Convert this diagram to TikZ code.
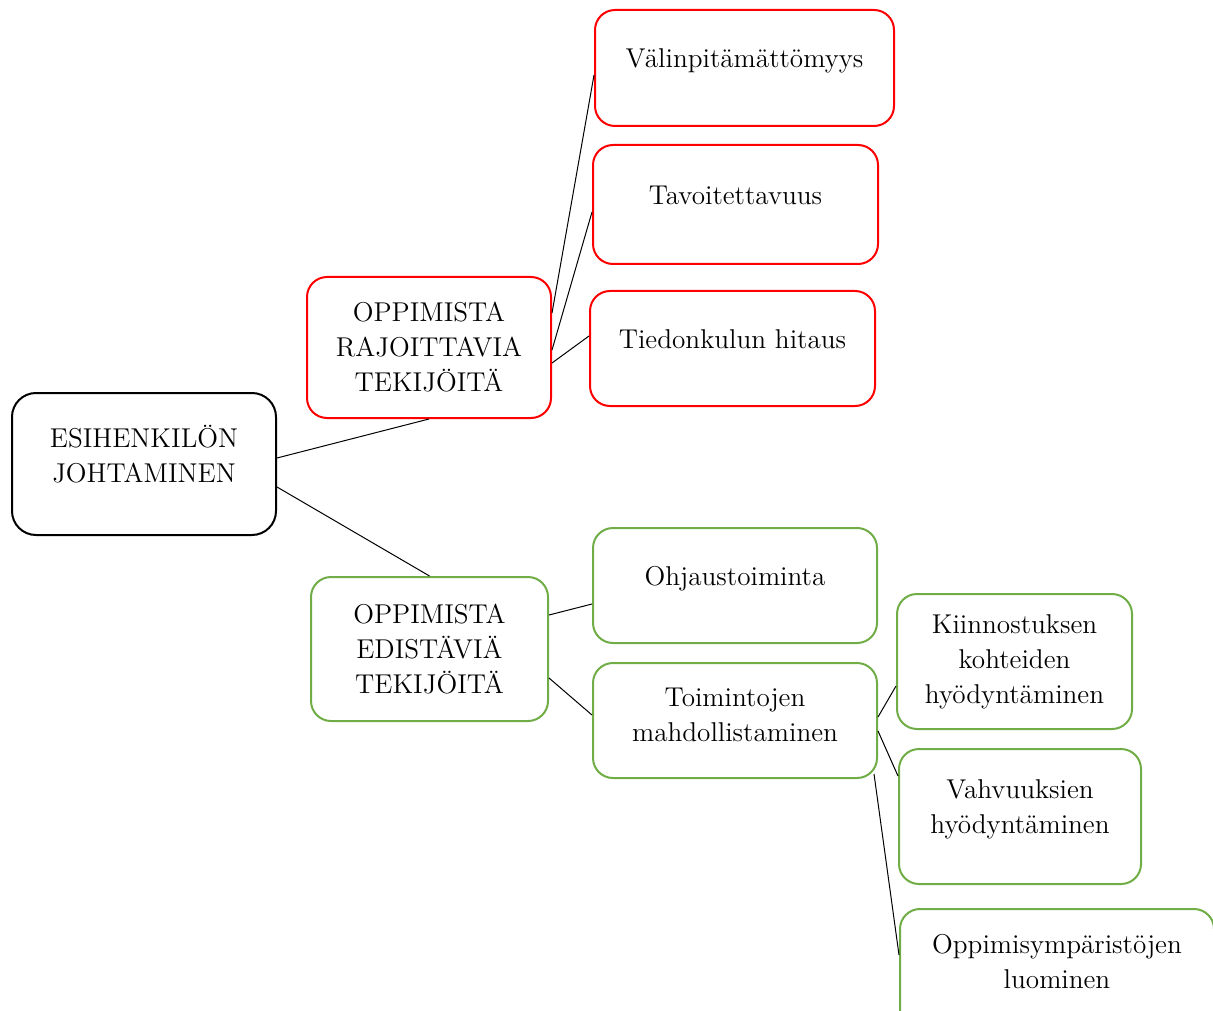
\documentclass[tikz,border=0pt]{standalone}
\usetikzlibrary{calc}
\definecolor{boxred}{RGB}{255,0,0}
\definecolor{boxgreen}{RGB}{112,173,71}

\begin{document}
\begin{tikzpicture}[x=0.5pt,y=-0.5pt]
   \tikzstyle{box}=[draw, rounded corners=10pt, line width=1pt, align=center, inner sep=2pt, font=\fontsize{13.6}{17.5}\selectfont]
   \tikzstyle{top box}=[box, draw=black, rounded corners=12pt]
   \tikzstyle{red box}=[box, draw=boxred]
   \tikzstyle{green box}=[box, draw=boxgreen]
   \tikzstyle{link}=[draw=black, line width=0.5pt]

\useasboundingbox (0,0) rectangle (1213,1010);

% root
\node[top box, minimum width=132pt, minimum height=71pt, text depth=10.5pt] (johto) at (144,464) {ESIHENKILÖN\\JOHTAMINEN};

% rajoittavat
\node[red box, minimum width=122pt, minimum height=70.5pt] (rajoit) at (429,347.5) {OPPIMISTA\\RAJOITTAVIA\\TEKIJÖITÄ};
\node[red box, minimum width=149.5pt, minimum height=58pt, text depth=10pt] (valin) at (744.5,68) {Välinpitämättömyys};
\node[red box, minimum width=142.5pt, minimum height=59.5pt, text depth=9.5pt] (tavoit) at (735.5,204.5) {Tavoitettavuus};
\node[red box, minimum width=142.5pt, minimum height=57.5pt, text depth=9.5pt] (tiedon) at (732.5,348.5) {Tiedonkulun hitaus};

% edistavat
\node[green box, minimum width=118.5pt, minimum height=72pt] (edist) at (429.5,649) {OPPIMISTA\\EDISTÄVIÄ\\TEKIJÖITÄ};
\node[green box, minimum width=142pt, minimum height=57.5pt, text depth=9.5pt] (ohjaus) at (735,585.5) {Ohjaustoiminta};
\node[green box, minimum width=142pt, minimum height=57.5pt, text depth=5.5pt] (mahdol) at (735,720.5) {Toimintojen\\mahdollistaminen};
\node[green box, minimum width=117.5pt, minimum height=67.5pt] (kiinno) at (1014.5,661.5) {Kiinnostuksen\\kohteiden\\hyödyntäminen};
\node[green box, minimum width=121pt, minimum height=67.5pt, text depth=9.5pt] (vahvuu) at (1020,816.5) {Vahvuuksien\\hyödyntäminen};
\node[green box, minimum width=157pt, minimum height=67.5pt, text depth=15.5pt] (ympari) at (1057,976.5) {Oppimisympäristöjen\\luominen};

% connectors
\draw[link] ($(johto.east)+(0,-6)$) -- (rajoit.south);
\draw[link] ($(johto.east)+(0,23)$) -- (edist.north);
\draw[link] ($(rajoit.east)+(0,-34.5)$) -- ($(valin.west)+(0,7)$);
\draw[link] ($(rajoit.east)+(0,2.5)$) -- ($(tavoit.west)+(0,7.5)$);
\draw[link] ($(rajoit.east)+(0,15.5)$) -- ($(tiedon.west)+(0,-12.5)$);
\draw[link] ($(edist.east)+(0,-34)$) -- ($(ohjaus.west)+(0,18.5)$);
\draw[link] ($(edist.east)+(0,29)$) -- ($(mahdol.west)+(0,-5.5)$);
\draw[link] ($(mahdol.east)+(0,-3.5)$) -- ($(kiinno.west)+(0,24.5)$);
\draw[link] ($(mahdol.east)+(0,10.5)$) -- ($(vahvuu.west)+(0,-40.5)$);
\draw[link] ($(mahdol.south east)+(-4,-5)$) -- ($(ympari.west)+(0,-21.5)$);

\end{tikzpicture}
\end{document}
